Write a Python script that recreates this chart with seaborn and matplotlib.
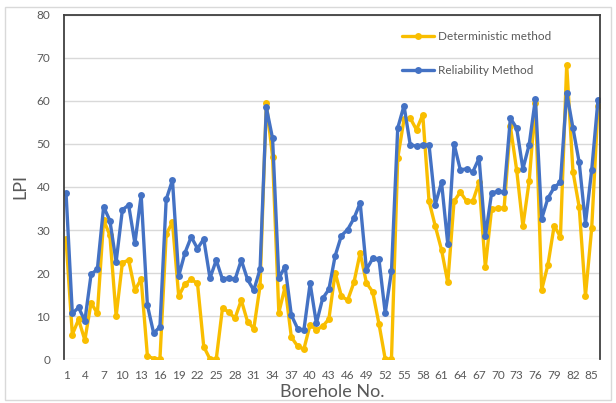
import matplotlib
matplotlib.use("Agg")
import matplotlib.pyplot as plt
import seaborn as sns
from matplotlib.patches import Rectangle

# LPI per borehole
boreholes = list(range(1, 87))
deterministic = [27.8, 5.7, 9.2, 4.4, 13.1, 10.6, 32.3, 28.8, 10.0, 22.4,
                 23.0, 16.0, 18.6, 0.7, 0.1, 0.0, 29.0, 31.8, 14.6, 17.5,
                 18.5, 17.6, 2.9, 0.0, 0.0, 11.9, 10.9, 9.5, 13.7, 8.7,
                 7.1, 17.0, 59.5, 47.0, 10.8, 16.8, 5.1, 3.0, 2.3, 8.0,
                 6.8, 7.6, 9.3, 20.1, 14.6, 13.7, 17.8, 24.7, 17.7, 15.6,
                 8.2, 0.0, 0.0, 46.7, 55.7, 56.0, 53.3, 56.8, 36.7, 30.9,
                 25.4, 17.8, 36.7, 38.8, 36.7, 36.7, 41.1, 21.4, 34.9, 35.1,
                 35.1, 54.1, 44.0, 30.9, 41.3, 59.5, 16.1, 21.9, 31.0, 28.4,
                 68.4, 43.6, 35.3, 14.7, 30.5, 58.8]
reliability = [38.5, 10.6, 12.0, 8.9, 19.7, 20.9, 35.4, 32.2, 22.6, 34.7,
               35.8, 26.9, 38.1, 12.5, 6.0, 7.5, 37.1, 41.6, 19.3, 24.7,
               28.4, 25.7, 27.9, 18.8, 23.0, 18.5, 18.9, 18.5, 23.0, 18.5,
               16.0, 20.9, 58.5, 51.3, 18.8, 21.5, 10.2, 7.1, 6.7, 17.6,
               8.3, 14.1, 16.2, 24.0, 28.7, 30.1, 32.7, 36.3, 20.8, 23.4,
               23.2, 10.7, 20.4, 53.7, 58.9, 49.8, 49.5, 49.8, 49.8, 35.9,
               41.1, 26.7, 50.0, 44.0, 44.2, 43.5, 46.7, 28.5, 38.6, 39.0,
               38.8, 56.0, 53.7, 44.2, 49.8, 60.5, 32.6, 37.4, 39.9, 41.1,
               61.9, 53.7, 45.7, 31.5, 44.0, 60.2]
x_ticks = list(range(1, 87, 3))
y_ticks = list(range(0, 81, 10))

sns.set_style("white")
plt.rcParams['font.family'] = ['Lato', 'DejaVu Sans']

fig = plt.figure(figsize=(6.16, 4.03), dpi=100)
ax = fig.add_axes([0.104, 0.109, 0.870, 0.854])

sns.lineplot(x=boreholes, y=deterministic, ax=ax, color='#F9BE00', linewidth=2.4,
             marker='o', markersize=5, markeredgewidth=0, label='Deterministic method')
sns.lineplot(x=boreholes, y=reliability, ax=ax, color='#4472C4', linewidth=2.4,
             marker='o', markersize=5, markeredgewidth=0, label='Reliability Method')

ax.set_xlim(0.68, 86.32)
ax.set_ylim(0, 80)
ax.set_xticks(x_ticks)
ax.set_yticks(y_ticks)
ax.tick_params(axis='both', length=0, labelsize=8.5, labelcolor='#595959')
ax.tick_params(axis='y', pad=10)
ax.tick_params(axis='x', pad=8)

ax.yaxis.grid(True, color='#D9D9D9', linewidth=1)
ax.set_axisbelow(True)
for side in ['left', 'top', 'right']:
    ax.spines[side].set_color('#404040')
    ax.spines[side].set_linewidth(1.3)
ax.spines['bottom'].set_visible(False)

ax.set_xlabel('Borehole No.', fontsize=13, color='#595959', labelpad=2)
ax.set_ylabel('LPI', fontsize=13, color='#595959', labelpad=6)

ax.legend(loc='upper left', bbox_to_anchor=(0.619, 0.971), frameon=False,
          fontsize=8.5, labelcolor='#595959', handlelength=2.7, handletextpad=0.4,
          labelspacing=2.0, borderpad=0)

fig.patches.append(Rectangle((0.008, 0.008), 0.984, 0.975, transform=fig.transFigure,
                             fill=False, edgecolor='#D9D9D9', linewidth=1))

fig.savefig('out.png', dpi=100)
